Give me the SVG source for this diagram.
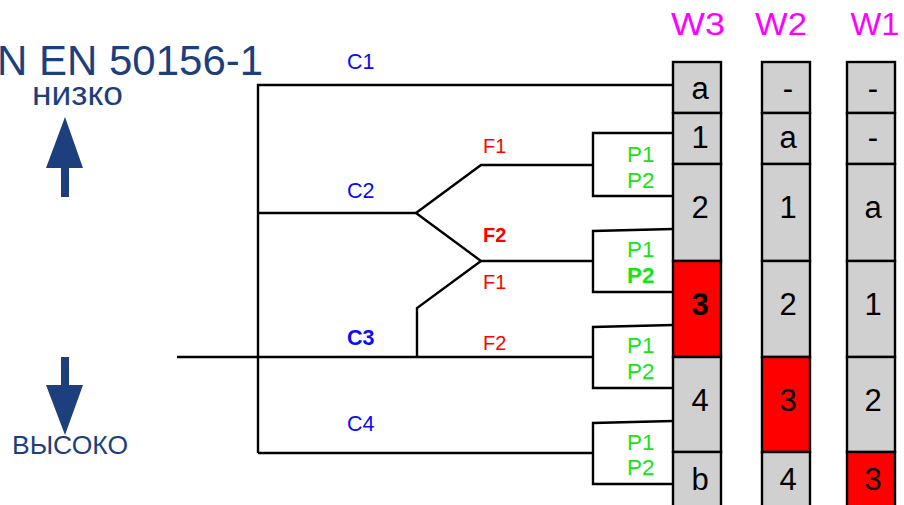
<svg xmlns="http://www.w3.org/2000/svg" width="904" height="505" viewBox="0 0 904 505">
  <style>
    text { font-family: "Liberation Sans", Arial, sans-serif; }
    .wire { fill: none; stroke: #000; stroke-width: 2.4; stroke-linejoin: miter; }
    .cell { fill: #d0d0d0; stroke: #000; stroke-width: 2.4; }
    .cell.hot { fill: #ff0000; }
    .val { font-size: 31px; fill: #000; text-anchor: middle; }
    .head { font-size: 31px; fill: #ff00ff; text-anchor: middle; }
    .c { font-size: 21.5px; fill: #0a0aff; }
    .f { font-size: 20px; fill: #ff0000; }
    .p { font-size: 22.5px; fill: #14e614; }
    .b { font-weight: bold; }
    .navy { fill: #1d3f7d; }
  </style>

  <!-- standard title and direction indicators -->
  <g id="title">
    <text class="navy" x="-3" y="75" font-size="42">N EN 50156-1</text>
  </g>
  <g id="low">
    <text class="navy" x="32" y="105" font-size="33" textLength="91" lengthAdjust="spacingAndGlyphs">низко</text>
    <polygon class="navy" points="65,117 83,168 69,168 69,197 61,197 61,168 46,168"/>
  </g>
  <g id="high">
    <polygon class="navy" points="61,357 69,357 69,385 83,385 65,435 46,385 61,385"/>
    <text class="navy" x="12" y="454" font-size="25" textLength="116" lengthAdjust="spacingAndGlyphs">ВЫСОКО</text>
  </g>

  <!-- wiring -->
  <g id="connectors">
    <polyline class="wire" points="258,453 258,85 673,85"/>
    <polyline class="wire" points="258,213 416,213"/>
    <polyline class="wire" points="416,213 481,165 593,165"/>
    <polyline class="wire" points="416,213 481,261 593,261"/>
    <polyline class="wire" points="481,261 417,308 417,357"/>
    <polyline class="wire" points="177,357 593,357"/>
    <polyline class="wire" points="258,453 593,453"/>
    <!-- P1/P2 brackets -->
    <polyline class="wire" points="673,133 593,133 593,196 673,196"/>
    <polyline class="wire" points="673,229 593,231 593,292 673,292"/>
    <polyline class="wire" points="673,325 593,327 593,388 673,388"/>
    <polyline class="wire" points="673,421 593,423 593,484 673,484"/>
  </g>

  <!-- line labels -->
  <g id="labels">
    <text class="c" x="347" y="69">C1</text>
    <text class="c" x="347" y="198">C2</text>
    <text class="c b" x="347" y="345">C3</text>
    <text class="c" x="347" y="431">C4</text>
    <text class="f" x="483" y="153">F1</text>
    <text class="f b" x="483" y="242">F2</text>
    <text class="f" x="483" y="289">F1</text>
    <text class="f" x="483" y="350">F2</text>
    <text class="p" x="627" y="162">P1</text>
    <text class="p" x="627" y="188">P2</text>
    <text class="p" x="627" y="257">P1</text>
    <text class="p b" x="627" y="283">P2</text>
    <text class="p" x="627" y="353">P1</text>
    <text class="p" x="627" y="379">P2</text>
    <text class="p" x="627" y="450">P1</text>
    <text class="p" x="627" y="475">P2</text>
  </g>

  <!-- W3 column -->
  <g id="W3">
    <text class="head" x="698" y="35" textLength="54" lengthAdjust="spacingAndGlyphs">W3</text>
    <rect class="cell" x="673" y="62" width="48" height="51"/>
    <rect class="cell" x="673" y="113" width="48" height="51"/>
    <rect class="cell" x="673" y="164" width="48" height="97"/>
    <rect class="cell hot" x="673" y="261" width="48" height="96"/>
    <rect class="cell" x="673" y="357" width="48" height="95"/>
    <rect class="cell" x="673" y="452" width="48" height="70"/>
    <text class="val" x="700" y="99">a</text>
    <text class="val" x="700" y="148">1</text>
    <text class="val" x="700" y="218">2</text>
    <text class="val b" x="700" y="315">3</text>
    <text class="val" x="700" y="411">4</text>
    <text class="val" x="700" y="490">b</text>
  </g>

  <!-- W2 column -->
  <g id="W2">
    <text class="head" x="781" y="35" textLength="52" lengthAdjust="spacingAndGlyphs">W2</text>
    <rect class="cell" x="762" y="62" width="48" height="51"/>
    <rect class="cell" x="762" y="113" width="48" height="51"/>
    <rect class="cell" x="762" y="164" width="48" height="97"/>
    <rect class="cell" x="762" y="261" width="48" height="96"/>
    <rect class="cell hot" x="762" y="357" width="48" height="95"/>
    <rect class="cell" x="762" y="452" width="48" height="70"/>
    <text class="val" x="788" y="99">-</text>
    <text class="val" x="788" y="148">a</text>
    <text class="val" x="788" y="218">1</text>
    <text class="val" x="788" y="315">2</text>
    <text class="val" x="788" y="411">3</text>
    <text class="val" x="788" y="490">4</text>
  </g>

  <!-- W1 column -->
  <g id="W1">
    <text class="head" x="875" y="35" textLength="49" lengthAdjust="spacingAndGlyphs">W1</text>
    <rect class="cell" x="847" y="62" width="48" height="51"/>
    <rect class="cell" x="847" y="113" width="48" height="51"/>
    <rect class="cell" x="847" y="164" width="48" height="97"/>
    <rect class="cell" x="847" y="261" width="48" height="96"/>
    <rect class="cell" x="847" y="357" width="48" height="95"/>
    <rect class="cell hot" x="847" y="452" width="48" height="70"/>
    <text class="val" x="873" y="99">-</text>
    <text class="val" x="873" y="148">-</text>
    <text class="val" x="873" y="218">a</text>
    <text class="val" x="873" y="315">1</text>
    <text class="val" x="873" y="411">2</text>
    <text class="val" x="873" y="490">3</text>
  </g>
</svg>
